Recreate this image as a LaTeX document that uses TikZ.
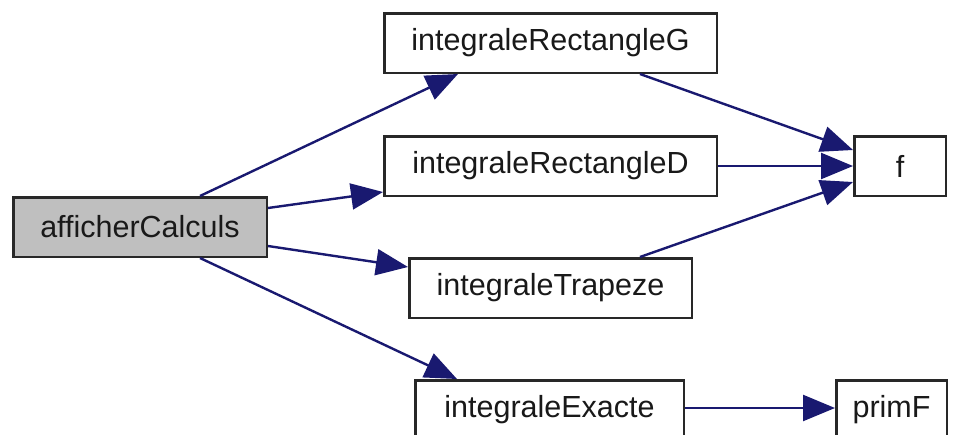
\documentclass[tikz,border=0pt]{standalone}
\usepackage{fontspec}
\setmainfont{Liberation Sans}
\usetikzlibrary{arrows.meta}
\definecolor{navy}{RGB}{25,25,112}
\definecolor{boxgray}{RGB}{191,191,191}
\definecolor{boxline}{RGB}{40,40,40}
\tikzset{
  box/.style={draw=boxline, line width=2.5pt, inner sep=0pt, fill=white,
    minimum height=59.5pt, font=\fontsize{30.5}{36}\selectfont, text=black!90},
  conn/.style={draw=navy, line width=2.4pt, -{Triangle[length=32pt,width=26pt]}}
}
\begin{document}
\begin{tikzpicture}[x=1pt,y=-1pt]
\useasboundingbox (0,0) rectangle (955,434);
\clip (0,0) rectangle (955,434);
\node[box, fill=boxgray, minimum width=253.5pt] (aff) at (140,227) {afficherCalculs};
\node[box, minimum width=332.5pt] (rg) at (550.5,43) {integraleRectangleG};
\node[box, minimum width=332.5pt] (rd) at (550.5,166) {integraleRectangleD};
\node[box, minimum width=91.5pt] (f) at (900,166) {f};
\node[box, minimum width=282.5pt] (tr) at (550.5,288) {integraleTrapeze};
\node[box, minimum width=268.5pt] (ex) at (549.5,410) {integraleExacte};
\node[box, minimum width=110.5pt] (pf) at (891.5,410) {primF};

\draw[conn] ([xshift=60pt]aff.north) -- ([xshift=-92.5pt]rg.south);
\draw[conn] ([yshift=19pt]aff.east) -- ([yshift=-26pt]rd.west);
\draw[conn] ([yshift=-19pt]aff.east) -- ([yshift=21pt]tr.west);
\draw[conn] ([xshift=60pt]aff.south) -- ([xshift=-92.5pt]ex.north);
\draw[conn] ([xshift=89.5pt]rg.south) -- ([yshift=16pt]f.west);
\draw[conn] (rd.east) -- (f.west);
\draw[conn] ([xshift=89.5pt]tr.north) -- ([yshift=-16pt]f.west);
\draw[conn] ([yshift=2pt]ex.east) -- ([yshift=2pt]pf.west);
\end{tikzpicture}
\end{document}
